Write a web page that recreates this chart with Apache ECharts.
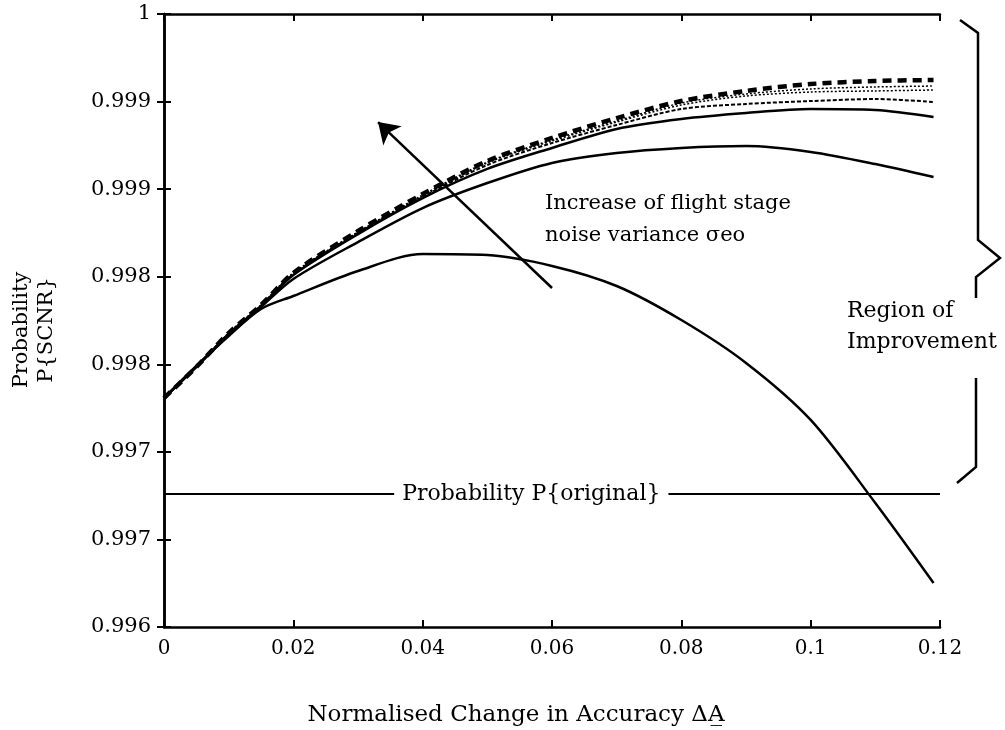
<!DOCTYPE html>
<html>
<head>
<meta charset="utf-8">
<script src="https://cdn.jsdelivr.net/npm/echarts@6/dist/echarts.min.js"></script>
<style>
  html, body { margin: 0; padding: 0; background: #fff; }
  #chart { width: 1005px; height: 730px; }
</style>
</head>
<body>
<div id="chart"></div>
<script>
// normalised change in accuracy (x) shared by every curve
const xValues = [0, 0.005, 0.01, 0.015, 0.02, 0.03, 0.04, 0.05, 0.06, 0.07, 0.08, 0.09, 0.1, 0.11, 0.119];

// P{SCNR} curves, from smallest to largest flight stage noise variance
const curveA = [0.997494, 0.997703, 0.997899, 0.998075, 0.998160, 0.998323, 0.998434, 0.998427, 0.998356, 0.998225, 0.998003, 0.997723, 0.997351, 0.996809, 0.996287];
const curveB = [0.997494, 0.997697, 0.997905, 0.998088, 0.998271, 0.998512, 0.998734, 0.998897, 0.999028, 0.999093, 0.999126, 0.999139, 0.999100, 0.999021, 0.998936];
const curveC = [0.997494, 0.997697, 0.997912, 0.998095, 0.998297, 0.998564, 0.998799, 0.998989, 0.999126, 0.999250, 0.999315, 0.999354, 0.999380, 0.999374, 0.999328];
const curveG = [0.997494, 0.997697, 0.997912, 0.998095, 0.998303, 0.998571, 0.998806, 0.999015, 0.999158, 0.999276, 0.999380, 0.999413, 0.999432, 0.999445, 0.999426];
const curveD = [0.997494, 0.997697, 0.997918, 0.998101, 0.998303, 0.998577, 0.998812, 0.999028, 0.999171, 0.999295, 0.999406, 0.999465, 0.999491, 0.999498, 0.999504];
const curveE = [0.997494, 0.997697, 0.997918, 0.998101, 0.998310, 0.998577, 0.998819, 0.999034, 0.999178, 0.999302, 0.999419, 0.999478, 0.999511, 0.999524, 0.999530];
const curveF = [0.997494, 0.997697, 0.997918, 0.998101, 0.998310, 0.998584, 0.998825, 0.999041, 0.999191, 0.999321, 0.999432, 0.999498, 0.999543, 0.999563, 0.999569];

// probability of the original configuration (horizontal reference)
const pOriginal = 0.996868;

// y axis: 0.996 .. 1 in 7 steps, labels printed to 3 decimals as in the figure
const yMin = 0.996;
const yMax = 1;
const yStep = 0.004 / 7;
const yTickLabels = ['0.996', '0.997', '0.997', '0.998', '0.998', '0.999', '0.999', '1'];

// arrow "increase of noise variance": tail -> head
const arrowTail = [0.0600, 0.998212];
const arrowHead = [0.0331, 0.999295];

const FONT = 'DejaVu Serif';

const chart = echarts.init(document.getElementById('chart'));

function pairs(ys) {
  return xValues.map((x, i) => [x, ys[i]]);
}

function curve(name, ys, width, type) {
  return {
    name: name,
    type: 'line',
    data: pairs(ys),
    smooth: 0.3,
    symbol: 'none',
    silent: true,
    lineStyle: { color: '#000', width: width, type: type },
    z: 3
  };
}

const axisLine = { show: true, lineStyle: { color: '#000', width: 2.5 } };
const axisTick = { show: true, inside: true, length: 7, lineStyle: { color: '#000', width: 2 } };

const option = {
  animation: false,
  backgroundColor: '#fff',
  grid: { left: 164, right: 65, top: 14, bottom: 103 },
  xAxis: [
    {
      type: 'value', min: 0, max: 0.12, interval: 0.02,
      axisLine: axisLine, axisTick: axisTick, splitLine: { show: false },
      axisLabel: { color: '#000', fontFamily: FONT, fontSize: 20, margin: 12 }
    },
    {
      type: 'value', position: 'top', min: 0, max: 0.12, interval: 0.02,
      axisLine: axisLine, axisTick: axisTick, splitLine: { show: false },
      axisLabel: { show: false }
    }
  ],
  yAxis: [
    {
      type: 'value', min: yMin, max: yMax, interval: yStep,
      axisLine: axisLine, axisTick: axisTick, splitLine: { show: false },
      axisLabel: {
        color: '#000', fontFamily: FONT, fontSize: 21, margin: 13,
        formatter: v => yTickLabels[Math.round((v - yMin) / yStep)] || ''
      }
    },
    {
      type: 'value', position: 'right', min: yMin, max: yMax, interval: yStep,
      axisLine: axisLine, axisTick: axisTick, splitLine: { show: false },
      axisLabel: { show: false }
    }
  ],
  series: [
    curve('A', curveA, 2.5, 'solid'),
    curve('B', curveB, 2.5, 'solid'),
    curve('C', curveC, 2.5, 'solid'),
    curve('G', curveG, 2, [4, 2]),
    curve('D', curveD, 1.5, [2, 2]),
    curve('E', curveE, 1.5, [2, 2]),
    curve('F', curveF, 4.5, [9, 6]),
    {
      // P{original} reference line with its label
      name: 'original',
      type: 'line',
      data: [[0, pOriginal], [0.12, pOriginal]],
      symbol: 'none',
      silent: true,
      lineStyle: { color: '#000', width: 2 },
      z: 2,
      markPoint: {
        silent: true,
        symbol: 'rect',
        symbolSize: 1,
        itemStyle: { color: 'rgba(0,0,0,0)' },
        label: {
          show: true, position: 'inside',
          formatter: () => 'Probability P{original}',
          color: '#000', fontFamily: FONT, fontSize: 22,
          backgroundColor: '#fff', padding: [2, 8]
        },
        data: [{ coord: [0.0568, pOriginal] }]
      },
      markLine: {
        silent: true,
        symbol: ['none', 'arrow'],
        symbolSize: 20,
        label: { show: false },
        lineStyle: { color: '#000', width: 2.5, type: 'solid' },
        data: [[{ coord: arrowTail }, { coord: arrowHead }]]
      }
    }
  ]
};

chart.setOption(option);

// annotation texts and the brace marking the region of improvement
const topY = chart.convertToPixel({ yAxisIndex: 0 }, yMax);
const origY = chart.convertToPixel({ yAxisIndex: 0 }, pOriginal);
const rightX = chart.convertToPixel({ xAxisIndex: 0 }, 0.12);
const bx = rightX + 38;
const midY = topY + (origY - topY) * 0.5;

const textStyle = { fill: '#000', font: '21px "' + FONT + '"' };

chart.setOption({
  graphic: [
    {
      type: 'text', left: 545, top: 188,
      style: Object.assign({ text: 'Increase of flight stage\nnoise variance σeo', lineHeight: 32 }, textStyle)
    },
    {
      type: 'text', left: 847, top: 296,
      style: Object.assign({ text: 'Region of\nImprovement', lineHeight: 31 }, textStyle, { font: '22px "' + FONT + '"' })
    },
    {
      type: 'text', x: 34, y: 330, rotation: Math.PI / 2,
      style: Object.assign({ text: 'Probability\nP{SCNR}', lineHeight: 25, align: 'center', verticalAlign: 'middle' }, textStyle)
    },
    {
      type: 'text', x: 516, y: 715,
      style: Object.assign({ text: 'Normalised Change in Accuracy ΔA̲', align: 'center', verticalAlign: 'middle' }, textStyle, { font: '23px "' + FONT + '"' })
    },
    {
      type: 'polyline',
      shape: { points: [[bx - 18, topY + 6], [bx, topY + 19], [bx, midY - 14], [bx + 22, midY + 4], [bx - 2, midY + 23], [bx - 2, midY + 44]] },
      style: { stroke: '#000', lineWidth: 2.5, fill: null }
    },
    {
      type: 'polyline',
      shape: { points: [[bx - 2, midY + 124], [bx - 2, origY - 27], [bx - 21, origY - 11]] },
      style: { stroke: '#000', lineWidth: 2.5, fill: null }
    }
  ]
});
</script>
</body>
</html>
